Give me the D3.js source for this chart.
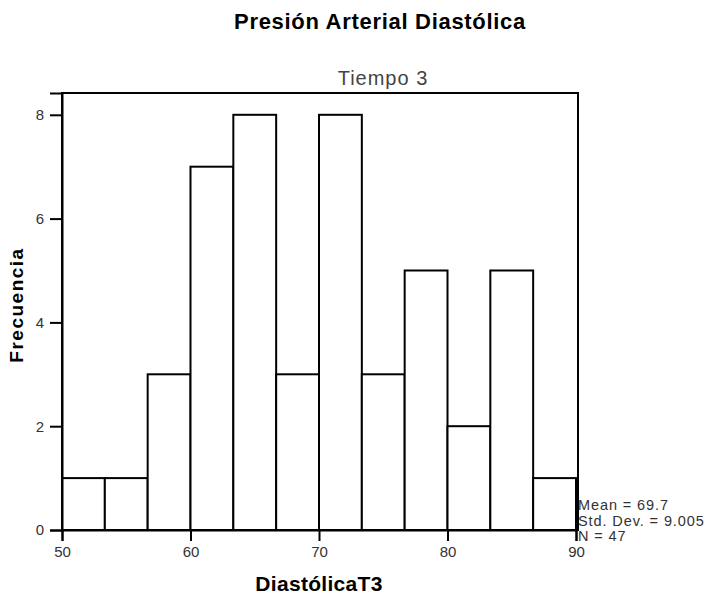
<!DOCTYPE html>
<html>
<head>
<meta charset="utf-8">
<script src="https://cdn.jsdelivr.net/npm/d3@7"></script>
<style>
  body { margin: 0; background: #fff; }
  svg { display: block; font-family: Arial, "Liberation Sans", sans-serif; }
</style>
</head>
<body>
<div id="chart"></div>
<script>
// histogram bins (DiastólicaT3), 12 bins of width 40/12
const binStarts = [50, 53.333, 56.667, 60, 63.333, 66.667, 70, 73.333, 76.667, 80, 83.333, 86.667];
const binWidth = 40 / 12;
const counts = [1, 1, 3, 7, 8, 3, 8, 3, 5, 2, 5, 1];
const xTicks = [50, 60, 70, 80, 90];
const yTicks = [0, 2, 4, 6, 8];
const stats = ["Mean = 69.7", "Std. Dev. = 9.005", "N = 47"];

const width = 709, height = 597;
const margin = { left: 62, right: 133, top: 93, bottom: 67 };

const svg = d3.select("#chart").append("svg")
  .attr("width", width)
  .attr("height", height);

const x = d3.scaleLinear().domain([50, 90]).range([margin.left, width - margin.right]);
const y = d3.scaleLinear().domain([0, 8.42]).range([height - margin.bottom, margin.top]);

// frame
svg.append("rect")
  .attr("x", x(50))
  .attr("y", margin.top)
  .attr("width", x(90) - x(50) + 2)
  .attr("height", y(0) - margin.top)
  .attr("fill", "none")
  .attr("stroke", "#000")
  .attr("stroke-width", 2);

// bars
svg.append("g").selectAll("rect")
  .data(counts)
  .enter().append("rect")
    .attr("x", (d, i) => x(binStarts[i]))
    .attr("y", d => y(d))
    .attr("width", (d, i) => x(binStarts[i] + binWidth) - x(binStarts[i]))
    .attr("height", d => y(0) - y(d))
    .attr("fill", "#fff")
    .attr("stroke", "#000")
    .attr("stroke-width", 2);

// axes
const xAxis = svg.append("g")
  .attr("transform", `translate(0, ${y(0)})`)
  .call(d3.axisBottom(x).tickValues(xTicks).tickSize(11).tickPadding(5).tickFormat(d3.format("d")));

const yAxis = svg.append("g")
  .attr("transform", `translate(${x(50)}, 0)`)
  .call(d3.axisLeft(y).tickValues(yTicks).tickSize(12).tickPadding(6).tickFormat(d3.format("d")));

[xAxis, yAxis].forEach(a => {
  a.select(".domain").attr("stroke-width", 2);
  a.selectAll(".tick line").attr("stroke-width", 2);
  a.selectAll("text").attr("font-size", 15).attr("fill", "#333")
    .style("font-family", "Arial, 'Liberation Sans', sans-serif");
});

// titles
svg.append("text")
  .attr("x", 380)
  .attr("y", 29)
  .attr("text-anchor", "middle")
  .attr("font-size", 22)
  .attr("font-weight", "bold")
  .attr("letter-spacing", 0.7)
  .text("Presión Arterial Diastólica");

svg.append("text")
  .attr("x", 383)
  .attr("y", 85)
  .attr("text-anchor", "middle")
  .attr("font-size", 20)
  .attr("letter-spacing", 1)
  .attr("fill", "#444")
  .text("Tiempo 3");

svg.append("text")
  .attr("transform", `translate(23, 305) rotate(-90)`)
  .attr("text-anchor", "middle")
  .attr("font-size", 19)
  .attr("font-weight", "bold")
  .attr("letter-spacing", 1.5)
  .text("Frecuencia");

svg.append("text")
  .attr("x", 319)
  .attr("y", 591)
  .attr("text-anchor", "middle")
  .attr("font-size", 21)
  .attr("font-weight", "bold")
  .attr("letter-spacing", 0.3)
  .text("DiastólicaT3");

// summary stats
svg.append("g").selectAll("text")
  .data(stats)
  .enter().append("text")
    .attr("x", x(90) + 2)
    .attr("y", (d, i) => 510 + i * 15.5)
    .attr("font-size", 14.5)
    .attr("letter-spacing", 0.9)
    .attr("fill", "#333")
    .text(d => d);
</script>
</body>
</html>
